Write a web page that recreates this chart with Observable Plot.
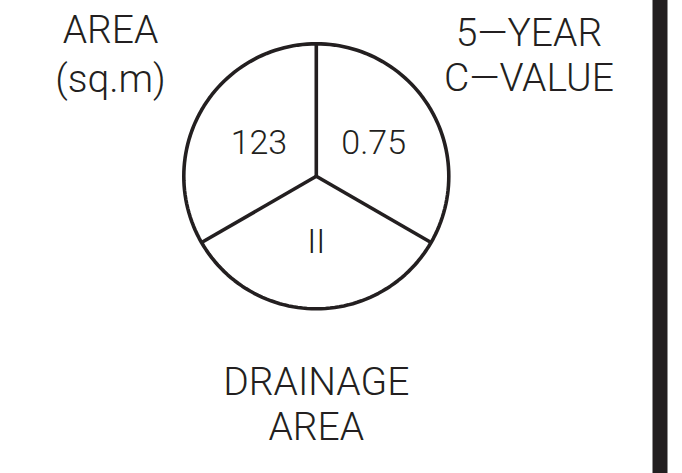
<!DOCTYPE html>
<html>
<head>
<meta charset="utf-8">
<script src="https://cdn.jsdelivr.net/npm/d3@7"></script>
<script src="https://cdn.jsdelivr.net/npm/@observablehq/plot@0.6"></script>
<style>
  html, body { margin: 0; padding: 0; background: #fff; }
  #chart svg { display: block; }
</style>
</head>
<body>
<div id="chart"></div>
<script>
// Data: one symbol split into three equal parts
const parts = ["5-YEAR C-VALUE", "DRAINAGE AREA", "AREA (sq.m)"];
const partValues = ["0.75", "II", "123"];
const partShares = [1, 1, 1];

// Outer captions (one entry per line)
const captionLines = ["AREA", "(sq.m)", "5—YEAR", "C—VALUE", "DRAINAGE", "AREA"];
const captionGroup = ["left", "left", "right", "right", "bottom", "bottom"];

// layout (symbol units: the circle has radius 1 around 0,0)
const groupX = {left: -1.553, right: 1.605, bottom: 0};
const lineTop = [1.214, 0.846, 1.189, 0.851, -1.441, -1.780];

const ink = "#231f20";
const font = "Roboto, 'DejaVu Sans', sans-serif";

// slice geometry from the equal shares (clockwise from the top)
const arcs = d3.pie().sort(null)(partShares);
const spokes = arcs.map(a => ({x: Math.sin(a.startAngle), y: Math.cos(a.startAngle)}));
const labels = arcs.map((a, i) => {
  const m = (a.startAngle + a.endAngle) / 2;
  return {part: parts[i], value: partValues[i], x: 0.5 * Math.sin(m), y: 0.5 * Math.cos(m)};
});
const ring = d3.range(0, 361, 2).map(d => ({x: Math.sin(d * Math.PI / 180), y: Math.cos(d * Math.PI / 180)}));
const captions = captionLines.map((t, i) => ({text: t, x: groupX[captionGroup[i]], y: lineTop[i]}));

const chart = Plot.plot({
  width: 682,
  height: 473,
  margin: 0,
  style: {background: "#fff", fontFamily: font},
  x: {domain: [-1, 1], range: [183.3, 448.3], axis: null},
  y: {domain: [-1, 1], range: [308.3, 43.3], axis: null},
  marks: [
    Plot.ruleX([2.594], {stroke: ink, strokeWidth: 15}),
    Plot.line(ring, {x: "x", y: "y", curve: "linear-closed", stroke: ink, strokeWidth: 3.6}),
    Plot.link(spokes, {x1: 0, y1: 0, x2: "x", y2: "y", stroke: ink, strokeWidth: 3.6, strokeLinecap: "butt"}),
    Plot.dot([0], {x: 0, y: 0, r: 1.8, fill: ink}),
    Plot.text(labels, {x: "x", y: "y", text: "value", fill: ink, fontSize: 34, fontWeight: 300, textAnchor: "middle"}),
    Plot.text(captions, {x: "x", y: "y", text: "text", fill: ink, fontSize: 39, fontWeight: 300, textAnchor: "middle", lineAnchor: "top"})
  ]
});
document.getElementById("chart").appendChild(chart);
</script>
</body>
</html>
